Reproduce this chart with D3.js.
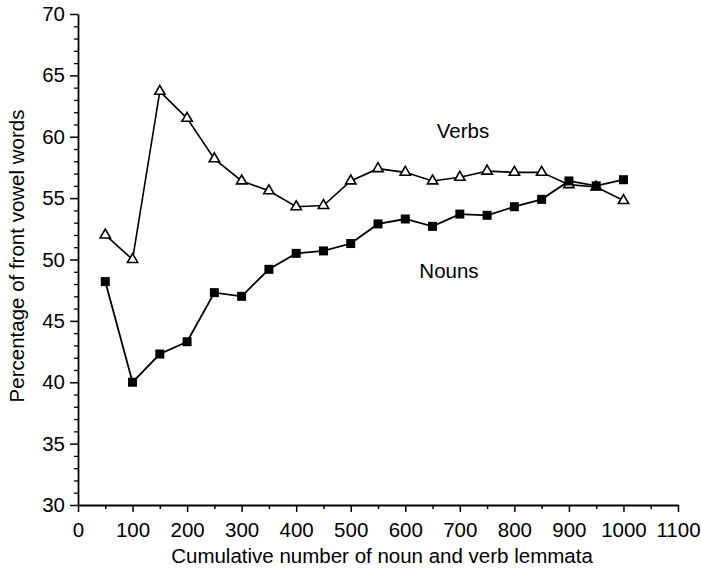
<!DOCTYPE html>
<html>
<head>
<meta charset="utf-8">
<script src="https://cdn.jsdelivr.net/npm/d3@7"></script>
<style>
  html, body { margin: 0; padding: 0; background: #fff; }
  svg { display: block; font-family: "Liberation Sans", Arial, Helvetica, sans-serif; }
</style>
</head>
<body>
<svg id="chart" width="701" height="572"></svg>
<script>
// Cumulative lemma counts (x) and the share of front-vowel words (%)
const lemmata = [50, 100, 150, 200, 250, 300, 350, 400, 450, 500,
                 550, 600, 650, 700, 750, 800, 850, 900, 950, 1000];
const verbs = [52.0, 50.0, 63.7, 61.5, 58.2, 56.4, 55.6, 54.3, 54.4, 56.4,
               57.4, 57.1, 56.4, 56.7, 57.2, 57.1, 57.1, 56.1, 55.9, 54.8];
const nouns = [48.2, 40.0, 42.3, 43.3, 47.3, 47.0, 49.2, 50.5, 50.7, 51.3,
               52.9, 53.3, 52.7, 53.7, 53.6, 54.3, 54.9, 56.4, 56.0, 56.5];
const xTicks = [0, 100, 200, 300, 400, 500, 600, 700, 800, 900, 1000, 1100];
const yTicks = [30, 35, 40, 45, 50, 55, 60, 65, 70];

const svg = d3.select("#chart");
const plotLeft = 78, plotRight = 678, plotTop = 14, plotBottom = 505;

const x = d3.scaleLinear().domain([0, 1100]).range([plotLeft, plotRight]);
const y = d3.scaleLinear().domain([30, 70]).range([plotBottom, plotTop]);

const fontSize = 20.5;

// Minor ticks (x every 50, y every 1)
const xMinor = d3.range(0, 1101, 50).filter(v => v % 100 !== 0);
const yMinor = d3.range(30, 71, 1).filter(v => v % 5 !== 0);

svg.append("g")
  .attr("transform", `translate(0,${plotBottom})`)
  .call(d3.axisBottom(x).tickValues(xMinor).tickSize(4).tickFormat(""))
  .call(g => g.select(".domain").remove())
  .call(g => g.selectAll("line").attr("stroke", "#000").attr("stroke-width", 1.5));

svg.append("g")
  .attr("transform", `translate(${plotLeft},0)`)
  .call(d3.axisLeft(y).tickValues(yMinor).tickSize(4).tickFormat(""))
  .call(g => g.select(".domain").remove())
  .call(g => g.selectAll("line").attr("stroke", "#000").attr("stroke-width", 1.3));

// Major axes
const xAxis = svg.append("g")
  .attr("transform", `translate(0,${plotBottom})`)
  .call(d3.axisBottom(x).tickValues(xTicks).tickSize(7).tickSizeOuter(0).tickPadding(10).tickFormat(d3.format("d")));
const yAxis = svg.append("g")
  .attr("transform", `translate(${plotLeft},0)`)
  .call(d3.axisLeft(y).tickValues(yTicks).tickSize(8).tickSizeOuter(0).tickPadding(5).tickFormat(d3.format("d")));

[xAxis, yAxis].forEach(g => {
  g.select(".domain").attr("stroke", "#000").attr("stroke-width", 1.8);
  g.selectAll(".tick line").attr("stroke", "#000").attr("stroke-width", 1.5);
  g.selectAll(".tick text").attr("fill", "#000").attr("font-size", fontSize)
    .attr("font-family", "Liberation Sans, Arial, sans-serif");
});

// Axis titles
svg.append("text")
  .attr("x", 382)
  .attr("y", 563)
  .attr("text-anchor", "middle")
  .attr("font-size", fontSize)
  .text("Cumulative number of noun and verb lemmata");

svg.append("text")
  .attr("transform", `translate(24,256) rotate(-90)`)
  .attr("text-anchor", "middle")
  .attr("font-size", fontSize)
  .text("Percentage of front vowel words");

const line = d3.line().x(d => x(d[0])).y(d => y(d[1]));

const verbPts = lemmata.map((v, i) => [v, verbs[i]]);
const nounPts = lemmata.map((v, i) => [v, nouns[i]]);

// Verbs: open triangles
svg.append("path")
  .datum(verbPts)
  .attr("fill", "none")
  .attr("stroke", "#000")
  .attr("stroke-width", 1.6)
  .attr("d", line);

const tri = d3.symbol().type(d3.symbolTriangle).size(46);
svg.append("g").selectAll("path")
  .data(verbPts)
  .join("path")
  .attr("transform", d => `translate(${x(d[0])},${y(d[1])})`)
  .attr("d", tri)
  .attr("fill", "#fff")
  .attr("stroke", "#000")
  .attr("stroke-width", 1.6);

// Nouns: filled squares
svg.append("path")
  .datum(nounPts)
  .attr("fill", "none")
  .attr("stroke", "#000")
  .attr("stroke-width", 1.8)
  .attr("d", line);

const sq = 9;
svg.append("g").selectAll("rect")
  .data(nounPts)
  .join("rect")
  .attr("x", d => x(d[0]) - sq / 2)
  .attr("y", d => y(d[1]) - sq / 2)
  .attr("width", sq)
  .attr("height", sq)
  .attr("fill", "#000");

// Series labels
svg.append("text")
  .attr("x", 463).attr("y", 138)
  .attr("text-anchor", "middle")
  .attr("font-size", fontSize)
  .text("Verbs");

svg.append("text")
  .attr("x", 449).attr("y", 278)
  .attr("text-anchor", "middle")
  .attr("font-size", fontSize)
  .text("Nouns");
</script>
</body>
</html>
